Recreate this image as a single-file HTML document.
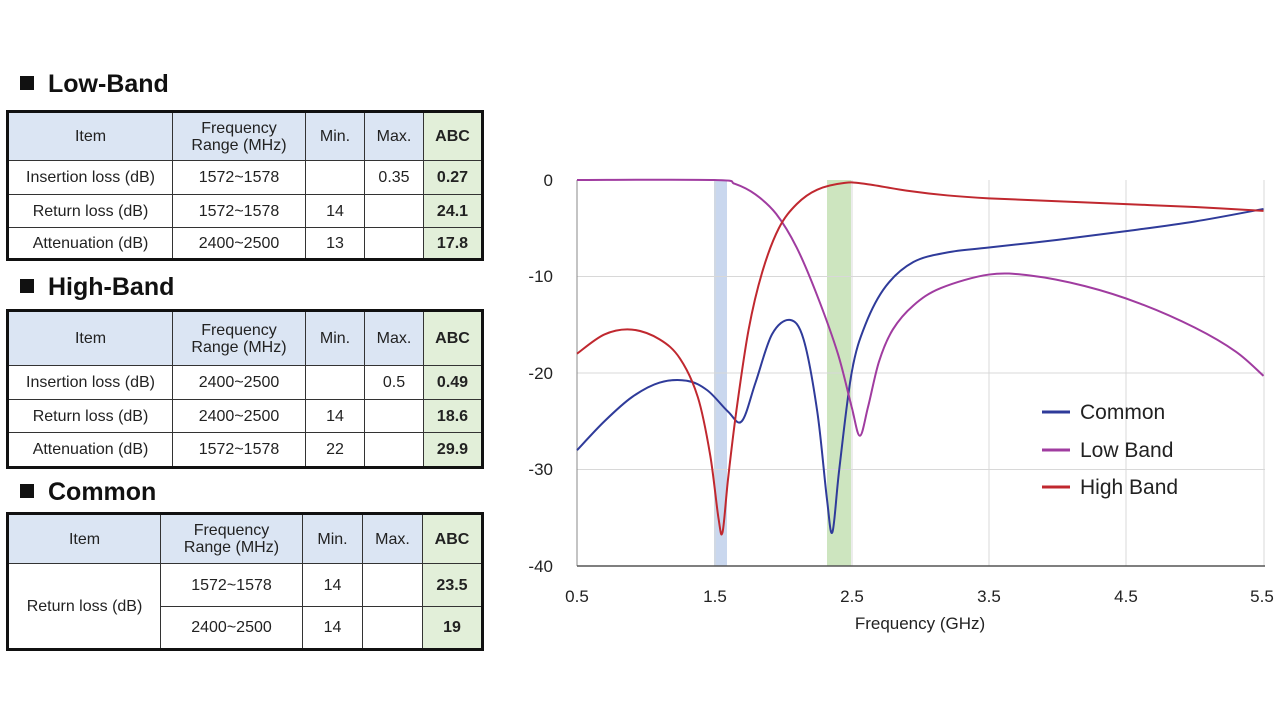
<!DOCTYPE html>
<html><head><meta charset="utf-8"><style>
body{margin:0;width:1280px;height:721px;background:#fff;position:relative;overflow:hidden;font-family:"Liberation Sans",sans-serif;}
.t{position:absolute;font-weight:bold;font-size:25px;color:#111;}
.t span{display:inline-block;width:14px;height:14px;background:#111;margin-right:14px;vertical-align:2px;}
table{position:absolute;border-collapse:collapse;border:3px solid #111;font-size:16px;color:#222;table-layout:fixed;}
td{border:1.5px solid #333;text-align:center;padding:0;line-height:17px;}
tr.h td{background:#dbe5f3;}
td.g{background:#e2efd9!important;font-weight:bold;}
</style></head><body>
<div class="t" style="left:20px;top:70px"><span></span>Low-Band</div>
<table style="left:6px;top:110px;width:477px">
<colgroup><col style="width:165px"><col style="width:133px"><col style="width:59px"><col style="width:59px"><col style="width:59px"></colgroup>
<tr class="h" style="height:49px"><td>Item</td><td>Frequency<br>Range (MHz)</td><td>Min.</td><td>Max.</td><td class="g">ABC</td></tr>
<tr style="height:34px"><td>Insertion loss (dB)</td><td>1572~1578</td><td></td><td>0.35</td><td class="g">0.27</td></tr>
<tr style="height:33px"><td>Return loss (dB)</td><td>1572~1578</td><td>14</td><td></td><td class="g">24.1</td></tr>
<tr style="height:32px"><td>Attenuation (dB)</td><td>2400~2500</td><td>13</td><td></td><td class="g">17.8</td></tr>
</table>
<div class="t" style="left:20px;top:273px"><span></span>High-Band</div>
<table style="left:6px;top:309px;width:477px">
<colgroup><col style="width:165px"><col style="width:133px"><col style="width:59px"><col style="width:59px"><col style="width:59px"></colgroup>
<tr class="h" style="height:55px"><td>Item</td><td>Frequency<br>Range (MHz)</td><td>Min.</td><td>Max.</td><td class="g">ABC</td></tr>
<tr style="height:34px"><td>Insertion loss (dB)</td><td>2400~2500</td><td></td><td>0.5</td><td class="g">0.49</td></tr>
<tr style="height:33px"><td>Return loss (dB)</td><td>2400~2500</td><td>14</td><td></td><td class="g">18.6</td></tr>
<tr style="height:35px"><td>Attenuation (dB)</td><td>1572~1578</td><td>22</td><td></td><td class="g">29.9</td></tr>
</table>
<div class="t" style="left:20px;top:478px"><span></span>Common</div>
<table style="left:6px;top:512px;width:477px">
<colgroup><col style="width:153px"><col style="width:142px"><col style="width:60px"><col style="width:60px"><col style="width:60px"></colgroup>
<tr class="h" style="height:50px"><td>Item</td><td>Frequency<br>Range (MHz)</td><td>Min.</td><td>Max.</td><td class="g">ABC</td></tr>
<tr style="height:43px"><td rowspan="2">Return loss (dB)</td><td>1572~1578</td><td>14</td><td></td><td class="g">23.5</td></tr>
<tr style="height:43px"><td>2400~2500</td><td>14</td><td></td><td class="g">19</td></tr>
</table>
<svg id="c" width="1280" height="721" style="position:absolute;left:0;top:0" font-family="Liberation Sans, sans-serif">
<rect x="714" y="180" width="13" height="386" fill="#c9d7ee"/>
<rect x="827" y="180" width="24" height="386" fill="#cde5bf"/>
<g stroke="#d8d8d8" stroke-width="1">
<line x1="577" y1="276.5" x2="1265" y2="276.5"/><line x1="577" y1="373" x2="1265" y2="373"/><line x1="577" y1="469.5" x2="1265" y2="469.5"/>
<line x1="715" y1="180" x2="715" y2="566"/><line x1="852" y1="180" x2="852" y2="566"/><line x1="989" y1="180" x2="989" y2="566"/><line x1="1126" y1="180" x2="1126" y2="566"/><line x1="1264" y1="180" x2="1264" y2="566"/>
</g>
<line x1="577" y1="180" x2="577" y2="566" stroke="#888"/>
<line x1="577" y1="566" x2="1265" y2="566" stroke="#555" stroke-width="1.5"/>
<g font-size="17" fill="#222" text-anchor="end">
<text x="553" y="186">0</text><text x="553" y="282">-10</text><text x="553" y="379">-20</text><text x="553" y="475">-30</text><text x="553" y="572">-40</text></g>
<g font-size="17" fill="#222" text-anchor="middle">
<text x="577" y="602">0.5</text><text x="715" y="602">1.5</text><text x="852" y="602">2.5</text><text x="989" y="602">3.5</text><text x="1126" y="602">4.5</text><text x="1262" y="602">5.5</text>
<text x="920" y="629">Frequency (GHz)</text></g>
<g id="curves"></g>
<g font-size="21" fill="#222">
<line x1="1042" y1="412" x2="1070" y2="412" stroke="#2f3b9a" stroke-width="3"/><text x="1080" y="419">Common</text>
<line x1="1042" y1="450" x2="1070" y2="450" stroke="#a03ca0" stroke-width="3"/><text x="1080" y="457">Low Band</text>
<line x1="1042" y1="487" x2="1070" y2="487" stroke="#c0282f" stroke-width="3"/><text x="1080" y="494">High Band</text>
</g>
</svg>
<script>
function X(f){return 577+(f-0.5)*137.3}function Y(d){return 180-d*9.65}
function path(pts){var P=pts.map(p=>[X(p[0]),Y(p[1])]);var s="M"+P[0][0]+","+P[0][1];
for(var i=0;i<P.length-1;i++){var p0=P[i-1]||P[i],p1=P[i],p2=P[i+1],p3=P[i+2]||p2;
s+=" C"+(p1[0]+(p2[0]-p0[0])/6)+","+(p1[1]+(p2[1]-p0[1])/6)+" "+(p2[0]-(p3[0]-p1[0])/6)+","+(p2[1]-(p3[1]-p1[1])/6)+" "+p2[0]+","+p2[1];}return s;}
var C=[[0.5,-28],[0.7,-25],[0.9,-22.5],[1.1,-21],[1.3,-20.8],[1.45,-21.8],[1.6,-24],[1.7,-25],[1.8,-21],[1.92,-16],[2.05,-14.5],[2.15,-16.5],[2.25,-24],[2.32,-33],[2.36,-36.5],[2.41,-30],[2.5,-20],[2.6,-15],[2.75,-11],[2.95,-8.5],[3.2,-7.5],[3.5,-7],[4,-6.2],[4.5,-5.3],[5,-4.3],[5.5,-3]];
var L=[[0.5,0],[1.5,0],[1.65,-0.4],[1.8,-1.5],[1.95,-3.5],[2.1,-7],[2.25,-12],[2.4,-18],[2.5,-23.5],[2.56,-26.5],[2.62,-23.5],[2.7,-18.8],[2.8,-15.5],[2.95,-13],[3.15,-11.2],[3.5,-9.8],[3.8,-9.9],[4.2,-11],[4.6,-12.8],[5,-15.3],[5.3,-17.8],[5.5,-20.3]];
var H=[[0.5,-18],[0.7,-16],[0.9,-15.5],[1.1,-16.5],[1.25,-18.5],[1.38,-22.5],[1.47,-28.5],[1.53,-35],[1.56,-36.5],[1.6,-31],[1.66,-24],[1.75,-15.5],[1.85,-9.5],[1.97,-5],[2.1,-2.5],[2.25,-1],[2.45,-0.3],[2.6,-0.4],[2.9,-1.1],[3.2,-1.6],[3.5,-1.9],[4,-2.2],[4.5,-2.5],[5,-2.8],[5.5,-3.2]];
var g=document.getElementById("curves");
[[C,"#2f3b9a"],[L,"#a03ca0"],[H,"#c0282f"]].forEach(function(a){var p=document.createElementNS("http://www.w3.org/2000/svg","path");p.setAttribute("d",path(a[0]));p.setAttribute("fill","none");p.setAttribute("stroke",a[1]);p.setAttribute("stroke-width","2");g.appendChild(p);});
</script>
</body></html>
